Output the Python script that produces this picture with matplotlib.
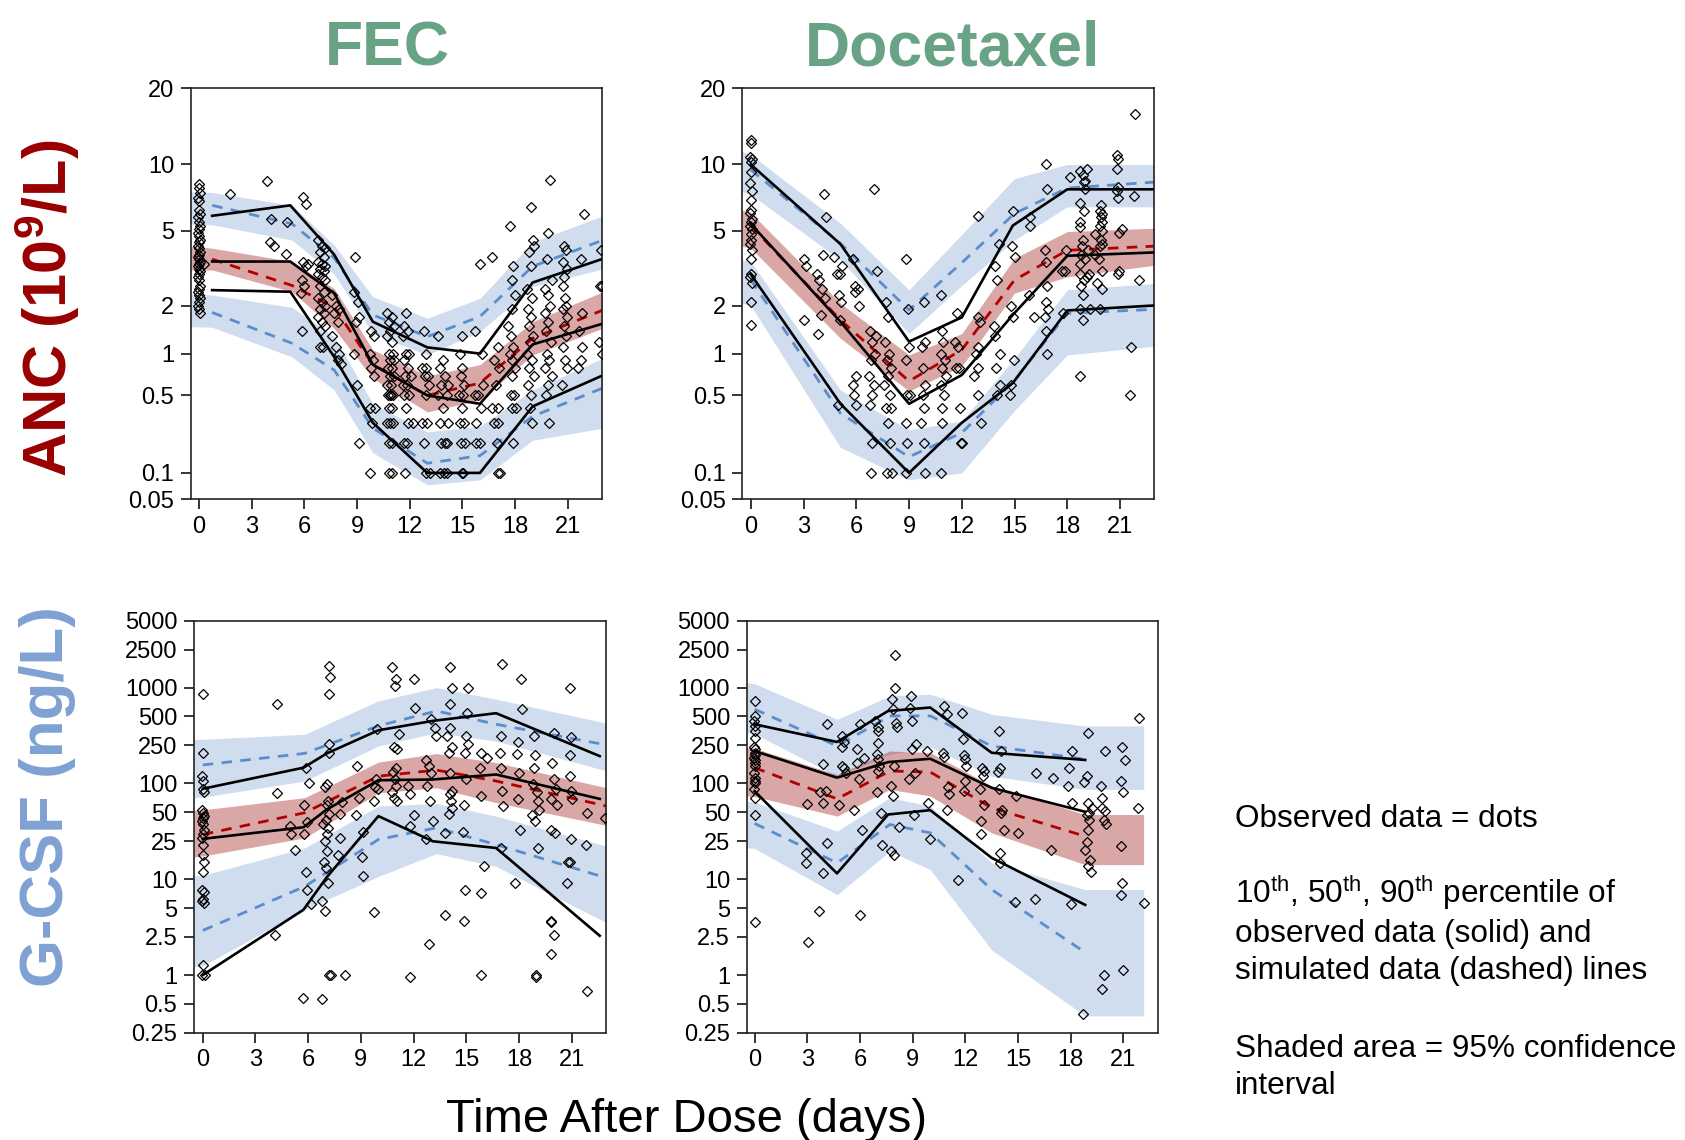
import numpy as np
import matplotlib
matplotlib.use("Agg")
import matplotlib.pyplot as plt
from matplotlib.ticker import NullLocator

plt.rcParams['font.family'] = ['Liberation Sans', 'DejaVu Sans']
plt.rcParams['mathtext.default'] = 'regular'

# ---------------- data ----------------
x_ticks = [0, 3, 6, 9, 12, 15, 18, 21]
anc_ticks = [0.05, 0.1, 0.5, 1, 2, 5, 10, 20]
anc_tick_labels = ["0.05", "0.1", "0.5", "1", "2", "5", "10", "20"]
gcsf_ticks = [0.25, 0.5, 1, 2.5, 5, 10, 25, 50, 100, 250, 500, 1000, 2500, 5000]
gcsf_tick_labels = ["0.25", "0.5", "1", "2.5", "5", "10", "25", "50", "100", "250",
                    "500", "1000", "2500", "5000"]

# ---- FEC, ANC ----
fec_anc_obs = [
    (0.0, 8.2), (0.0, 7.9), (0.05, 7.5), (-0.05, 7.1), (0.0, 6.9), (0.0, 6.3), (0.05, 6.0), (-0.05, 5.8),
    (0.0, 5.5), (0.05, 5.3), (0.0, 5.1), (-0.05, 4.9), (0.0, 4.7), (0.05, 4.5), (0.0, 4.4), (-0.05, 4.2),
    (0.0, 4.1), (0.05, 3.9), (0.0, 3.8), (-0.05, 3.7), (0.0, 3.6), (0.05, 3.5), (0.0, 3.4), (-0.05, 3.3),
    (0.0, 3.2), (0.05, 3.1), (0.0, 3.0), (-0.05, 2.9), (0.0, 2.8), (0.05, 2.6), (0.0, 2.5), (-0.05, 2.4),
    (0.0, 2.3), (0.05, 2.2), (0.0, 2.1), (-0.05, 2.0), (0.0, 1.9), (0.05, 1.8), (0.3, 3.4),
    (1.75, 7.4), (3.9, 8.5), (4.1, 5.7), (4.05, 4.4), (4.25, 4.2), (5.0, 5.5), (4.95, 3.85),
    (5.9, 7.2), (6.1, 6.7), (5.9, 3.5), (6.1, 3.3), (5.85, 2.8), (6.0, 2.6), (5.8, 2.35), (5.85, 1.4), (6.2, 3.4),
    (6.8, 4.5), (7.0, 4.2), (7.2, 4.1), (6.9, 3.9), (7.1, 3.7), (6.8, 3.5), (7.0, 3.4), (7.2, 3.3), (6.9, 3.2),
    (7.1, 3.1), (6.8, 3.0), (7.0, 2.9), (7.2, 2.8), (6.9, 2.6), (7.1, 2.4), (6.8, 2.2), (7.0, 2.1), (7.2, 2.0),
    (6.9, 1.9), (7.1, 1.8), (6.8, 1.7), (7.0, 1.6), (7.2, 1.5), (6.9, 1.4), (6.9, 1.1), (7.05, 1.1),
    (7.6, 2.3), (7.8, 2.0), (8.0, 1.9), (7.7, 1.8), (7.9, 1.6), (7.6, 1.3), (7.8, 1.1), (8.0, 1.0), (7.9, 0.9), (8.1, 0.85),
    (8.9, 3.7), (8.8, 2.4), (9.05, 2.1), (9.1, 1.7), (8.95, 1.6), (8.8, 1.0), (9.0, 0.6), (9.1, 0.2),
    (9.8, 1.4), (9.95, 1.3), (9.75, 1.0), (9.9, 0.9), (9.8, 0.8), (9.95, 0.7), (9.75, 0.4), (10.0, 0.4), (9.85, 0.3), (9.75, 0.1),
    (10.7, 1.8), (11.0, 1.7), (10.8, 1.6), (11.1, 1.5), (10.9, 1.4), (10.7, 1.3), (11.0, 1.2), (10.8, 1.0), (11.05, 1.0),
    (10.9, 0.9), (11.1, 0.9), (10.75, 0.8), (11.0, 0.8), (10.85, 0.7), (11.1, 0.7), (10.7, 0.6), (10.95, 0.6),
    (10.75, 0.5), (10.85, 0.5), (10.95, 0.5), (11.05, 0.5), (10.8, 0.4), (11.0, 0.4), (10.7, 0.3), (10.9, 0.3),
    (11.05, 0.3), (10.8, 0.2), (11.0, 0.2), (10.8, 0.1), (11.0, 0.1),
    (11.8, 1.8), (11.7, 1.5), (11.9, 1.4), (11.6, 1.3), (11.8, 1.0), (11.95, 1.0), (11.7, 0.9), (11.9, 0.8), (11.75, 0.7),
    (11.6, 0.6), (11.85, 0.6), (11.7, 0.5), (11.95, 0.5), (11.8, 0.4), (11.9, 0.3), (11.7, 0.2), (11.85, 0.2), (11.75, 0.1),
    (12.2, 0.3), (12.1, 0.7),
    (12.8, 1.4), (12.95, 1.0), (12.7, 0.8), (12.9, 0.8), (13.05, 0.7), (12.85, 0.7), (13.1, 0.6), (12.95, 0.5),
    (12.7, 0.3), (13.0, 0.3), (12.8, 0.2), (12.9, 0.1), (13.15, 0.1),
    (13.6, 1.3), (13.9, 0.9), (13.7, 0.8), (14.0, 0.7), (13.8, 0.6), (14.2, 0.6), (13.6, 0.5), (14.1, 0.5), (13.9, 0.4),
    (13.7, 0.3), (14.2, 0.3), (13.8, 0.2), (14.0, 0.2), (14.15, 0.2), (13.75, 0.1), (13.95, 0.1), (14.1, 0.1),
    (15.0, 1.3), (14.85, 1.0), (15.0, 0.8), (14.9, 0.7), (15.1, 0.6), (14.8, 0.5), (15.05, 0.5), (14.95, 0.4),
    (14.85, 0.3), (15.1, 0.3), (14.9, 0.2), (15.15, 0.2), (14.95, 0.1), (15.05, 0.1),
    (16.0, 3.4), (15.7, 1.4), (16.1, 1.0), (16.2, 0.6), (15.7, 0.5), (15.9, 0.5), (16.05, 0.4), (15.8, 0.3), (15.75, 0.2), (16.0, 0.2),
    (16.7, 3.7),
    (17.0, 1.1), (16.8, 0.9), (17.1, 0.8), (16.9, 0.6), (16.7, 0.4), (17.0, 0.4), (16.8, 0.3), (17.05, 0.3), (16.95, 0.2),
    (17.0, 0.1), (17.15, 0.1),
    (17.7, 5.3), (17.9, 3.3), (17.85, 2.8), (18.0, 2.3), (17.8, 1.9), (17.6, 1.5), (17.75, 1.3), (17.9, 1.1), (17.7, 1.0),
    (17.85, 0.9), (18.0, 0.8), (17.8, 0.7), (17.75, 0.5), (17.95, 0.5), (17.8, 0.4), (18.05, 0.4), (17.9, 0.2),
    (18.9, 6.5), (19.0, 4.5), (19.05, 4.2), (18.8, 3.9), (18.9, 3.3), (18.7, 2.5), (18.95, 2.2), (18.75, 1.9), (18.9, 1.7),
    (18.8, 1.5), (19.0, 1.3), (18.85, 1.2), (18.7, 1.0), (18.95, 0.9), (18.8, 0.8), (19.05, 0.7), (18.75, 0.6), (18.9, 0.5),
    (18.85, 0.4), (18.95, 0.3),
    (20.0, 8.6), (19.9, 4.9), (19.8, 3.6), (20.1, 2.8), (19.7, 2.5), (19.85, 2.3), (20.0, 2.0), (19.7, 1.8), (19.9, 1.6),
    (19.75, 1.4), (20.05, 1.2), (19.8, 1.0), (19.95, 0.9), (19.7, 0.8), (20.1, 0.7), (19.85, 0.6), (19.75, 0.5), (19.95, 0.3),
    (20.8, 4.2), (20.9, 4.0), (20.75, 3.5), (20.95, 3.2), (20.8, 2.9), (20.7, 2.6), (20.85, 2.2), (20.9, 2.0), (20.75, 1.9),
    (20.95, 1.7), (20.8, 1.5), (20.9, 1.3), (20.7, 1.1), (20.85, 0.9), (20.95, 0.8), (20.65, 0.6),
    (21.9, 6.0), (21.75, 3.6), (21.8, 1.8), (21.65, 1.4), (21.8, 1.1), (21.75, 0.9), (21.6, 0.8),
    (22.9, 4.0), (22.85, 2.6), (22.95, 2.6), (22.8, 1.2), (22.95, 1.0),
]
fec_anc_pct_t = [0.75, 5.2, 7.7, 9.9, 13.0, 16.0, 19.0, 22.93]
fec_anc_p90 = [5.9, 6.6, 3.8, 1.6, 1.1, 1.0, 2.7, 3.6]
fec_anc_p50 = [3.5, 3.5, 2.35, 0.84, 0.5, 0.43, 1.15, 1.55]
fec_anc_p10 = [2.45, 2.4, 0.95, 0.3, 0.1, 0.1, 0.41, 0.7]
fec_anc_band_t = [-0.5, 0.75, 5.3, 7.7, 9.9, 13.0, 16.0, 19.0, 23.0]
fec_anc_hi_top = [7.6, 7.55, 6.6, 4.25, 2.25, 1.68, 2.2, 4.4, 5.9]
fec_anc_hi_bot = [5.4, 5.35, 4.5, 3.0, 1.35, 0.98, 1.39, 2.56, 3.2]
fec_anc_mid_top = [4.2, 4.1, 3.5, 2.5, 1.06, 0.70, 0.84, 1.6, 2.4]
fec_anc_mid_bot = [3.16, 3.16, 2.4, 1.45, 0.67, 0.37, 0.46, 0.98, 1.46]
fec_anc_lo_top = [2.33, 2.3, 1.95, 1.29, 0.43, 0.25, 0.28, 0.55, 0.93]
fec_anc_lo_bot = [1.49, 1.48, 0.95, 0.55, 0.16, 0.074, 0.084, 0.21, 0.27]
fec_anc_sim_t = [0.75, 5.3, 7.7, 9.9, 13.0, 16.0, 19.0, 23.0]
fec_anc_sim90 = [6.6, 5.4, 3.65, 1.76, 1.29, 1.72, 3.3, 4.5]
fec_anc_sim50 = [3.6, 2.6, 1.95, 0.84, 0.5, 0.62, 1.26, 1.88]
fec_anc_sim10 = [1.82, 1.17, 0.77, 0.27, 0.126, 0.15, 0.34, 0.57]

# ---- Docetaxel, ANC ----
doc_anc_obs = [
    (0.0, 12.6), (0.0, 12.3), (-0.05, 10.8), (0.05, 10.5), (0.0, 10.2), (0.0, 9.3), (-0.05, 8.3), (0.05, 7.7),
    (0.0, 7.0), (0.0, 6.3), (-0.05, 6.1), (0.05, 5.7), (0.0, 5.5), (-0.05, 5.3), (0.05, 5.1), (0.0, 4.8), (0.0, 4.5),
    (-0.05, 4.3), (0.05, 4.0), (0.0, 3.6), (0.0, 3.0), (-0.05, 2.9), (0.05, 2.7), (0.0, 2.1), (0.0, 1.52),
    (3.0, 1.63), (3.0, 3.6), (3.15, 3.3),
    (3.75, 3.0), (3.9, 2.8), (4.0, 1.75), (3.8, 1.35), (4.05, 2.5),
    (4.15, 7.4), (4.1, 3.8), (4.2, 2.2), (4.3, 5.8),
    (4.75, 3.7), (4.9, 3.0), (5.05, 3.0), (5.2, 3.3), (5.0, 2.3), (5.15, 2.1), (5.1, 1.65), (4.95, 0.42),
    (5.8, 3.6), (5.9, 2.6), (6.1, 2.5), (5.95, 2.4), (6.15, 2.0), (6.0, 0.7), (5.8, 0.6), (5.85, 0.5), (6.0, 0.42),
    (7.0, 7.8), (7.2, 3.1), (6.8, 1.4), (7.1, 1.3), (6.9, 1.2), (7.05, 1.0), (6.85, 0.9), (6.75, 0.7), (7.0, 0.6),
    (6.9, 0.5), (6.8, 0.42), (6.9, 0.2), (6.85, 0.1),
    (7.7, 2.1), (7.8, 1.7), (7.65, 1.2), (7.85, 1.0), (7.75, 0.9), (8.0, 0.8), (7.8, 0.7), (7.6, 0.6), (7.9, 0.5),
    (7.7, 0.4), (8.0, 0.4), (7.8, 0.3), (7.9, 0.2), (7.75, 0.1), (8.05, 0.1),
    (8.8, 3.6), (8.95, 1.9), (9.0, 1.1), (8.85, 0.9), (8.9, 0.5), (9.05, 0.5), (8.8, 0.3), (8.9, 0.2), (8.85, 0.1),
    (9.85, 2.1), (9.9, 1.2), (9.75, 1.1), (9.8, 0.8), (9.9, 0.6), (9.8, 0.5), (9.85, 0.4), (9.7, 0.3), (9.85, 0.2), (9.9, 0.1),
    (10.8, 2.3), (10.85, 1.4), (10.95, 1.2), (10.8, 1.0), (11.05, 0.9), (10.9, 0.8), (11.1, 0.7), (10.8, 0.6),
    (11.0, 0.5), (10.85, 0.4), (10.9, 0.3), (10.8, 0.1),
    (11.7, 1.8), (11.6, 1.2), (11.8, 1.1), (11.65, 0.8), (11.85, 0.8), (11.9, 0.4), (12.0, 0.2), (11.95, 0.2),
    (12.9, 5.9), (12.95, 1.7), (13.05, 1.6), (12.9, 1.1), (12.8, 1.0), (12.95, 0.8), (12.7, 0.7), (12.9, 0.5), (13.1, 0.3),
    (14.1, 4.3), (13.9, 3.3), (14.0, 2.8), (13.85, 1.5), (13.9, 1.3), (14.15, 1.0), (13.95, 0.8), (14.2, 0.6), (14.0, 0.5),
    (14.9, 6.2), (14.85, 4.2), (15.0, 3.7), (14.8, 2.0), (14.9, 1.7), (14.95, 0.9), (14.8, 0.6), (14.75, 0.5),
    (15.9, 5.8), (15.9, 5.3), (15.8, 2.3), (16.1, 1.7),
    (16.8, 10.0), (16.85, 7.8), (16.75, 4.0), (16.8, 3.5), (16.85, 2.6), (16.8, 2.1), (16.9, 1.9), (16.75, 1.7),
    (16.8, 1.4), (16.85, 1.0),
    (17.7, 3.1), (17.85, 3.1), (17.9, 4.0), (17.75, 1.8), (18.15, 8.8),
    (18.7, 9.4), (18.9, 9.0), (18.95, 8.4), (18.75, 6.8), (18.95, 6.2), (18.7, 5.5), (18.75, 5.2), (18.9, 4.5),
    (18.85, 4.2), (18.8, 3.8), (19.0, 3.6), (18.75, 3.4), (18.7, 3.0), (18.95, 2.8), (18.8, 2.6), (18.9, 2.3),
    (18.75, 1.9), (18.9, 1.65), (18.7, 0.7),
    (19.1, 9.6), (19.0, 8.5), (19.0, 7.8), (19.2, 4.0), (19.25, 3.0), (19.1, 2.9), (19.3, 1.9),
    (19.9, 6.6), (19.85, 6.2), (19.95, 6.0), (19.9, 5.8), (20.0, 5.5), (19.85, 5.3), (19.95, 5.0), (19.6, 4.8),
    (19.9, 4.5), (20.0, 4.3), (19.85, 4.2), (19.6, 3.8), (19.8, 3.6), (19.95, 3.1), (19.7, 2.7), (19.95, 2.5), (19.85, 1.9),
    (20.8, 11.0), (20.9, 10.5), (20.85, 9.6), (20.9, 8.0), (20.85, 7.7), (20.9, 7.1), (21.1, 5.1), (20.95, 4.9),
    (20.95, 3.1), (20.9, 3.0),
    (21.85, 16.0), (21.8, 7.3), (21.65, 1.1), (21.55, 0.5), (22.1, 2.8),
]
doc_anc_pct_t = [0.0, 5.1, 9.0, 12.0, 14.9, 18.0, 22.93]
doc_anc_p90 = [10.0, 4.3, 1.2, 1.7, 5.3, 7.8, 7.8]
doc_anc_p50 = [5.4, 1.6, 0.43, 0.71, 1.76, 3.75, 3.9]
doc_anc_p10 = [3.0, 0.43, 0.1, 0.3, 0.62, 1.87, 2.0]
doc_anc_band_t = [-0.5, 0.0, 5.1, 9.0, 12.0, 15.0, 18.0, 23.0]
doc_anc_hi_top = [11.3, 11.0, 5.44, 2.46, 4.8, 8.7, 10.0, 10.0]
doc_anc_hi_bot = [7.6, 7.4, 3.57, 1.35, 2.6, 4.5, 6.5, 6.5]
doc_anc_mid_top = [6.28, 6.1, 2.06, 0.98, 1.35, 3.64, 4.96, 5.15]
doc_anc_mid_bot = [4.2, 4.1, 1.26, 0.54, 0.82, 2.36, 2.9, 3.35]
doc_anc_lo_top = [3.57, 3.5, 0.55, 0.26, 0.31, 0.93, 2.46, 2.67]
doc_anc_lo_bot = [2.06, 2.0, 0.18, 0.084, 0.1, 0.38, 0.98, 1.12]
doc_anc_sim_t = [0.0, 5.1, 9.0, 12.0, 15.0, 18.0, 23.0]
doc_anc_sim90 = [9.5, 4.33, 1.88, 3.45, 6.05, 7.9, 8.4]
doc_anc_sim50 = [5.3, 1.64, 0.64, 1.06, 2.79, 4.0, 4.2]
doc_anc_sim10 = [2.8, 0.36, 0.146, 0.245, 0.65, 1.8, 1.9]

# ---- FEC, G-CSF ----
fec_gcsf_obs = [
    (0.0, 855), (0.0, 210), (-0.05, 121), (0.0, 107), (0.05, 82), (0.0, 88), (-0.05, 53), (0.0, 49), (0.05, 46),
    (0.0, 44), (-0.05, 41), (0.0, 38), (0.05, 33), (0.0, 30), (-0.05, 27), (0.0, 23), (0.0, 18), (0.05, 15),
    (0.0, 11.8), (-0.05, 7.7), (0.05, 7.3), (0.0, 6.2), (-0.05, 5.9), (0.05, 5.7), (0.0, 1.28), (-0.05, 1.0), (0.1, 1.0),
    (4.2, 80), (4.2, 670), (4.1, 2.6), (4.95, 36), (5.05, 30), (5.25, 20),
    (5.85, 146), (6.05, 100), (5.75, 59), (5.95, 40), (5.75, 30), (5.85, 12), (5.95, 7.7), (6.15, 5.5), (5.7, 0.58),
    (7.2, 1690), (7.25, 1280), (7.2, 855), (7.2, 260), (7.2, 210), (7.05, 98), (6.95, 91), (7.15, 66), (7.1, 59),
    (7.2, 48), (7.0, 42), (6.85, 38), (7.15, 34), (7.05, 30), (6.95, 25), (7.1, 19.5), (6.9, 15), (7.0, 13),
    (7.15, 9.2), (6.8, 5.9), (6.95, 4.7), (7.2, 1.0), (7.3, 1.0), (6.8, 0.56),
    (7.8, 48), (7.9, 64), (7.8, 27), (7.7, 18), (8.1, 1.0),
    (8.8, 152), (8.9, 71), (8.7, 47), (9.1, 31), (9.05, 17), (9.1, 10.9),
    (9.9, 367), (9.85, 110), (9.8, 91), (9.95, 87), (9.75, 65), (9.75, 4.6),
    (10.8, 1660), (11.0, 1230), (10.95, 1050), (11.2, 326), (10.9, 240), (11.05, 227), (11.0, 144), (10.85, 131),
    (10.95, 112), (11.0, 93), (10.8, 82), (10.9, 71), (11.05, 65),
    (12.0, 1230), (12.1, 620), (11.7, 93), (11.8, 77), (12.0, 47), (11.8, 36), (11.8, 0.96),
    (12.7, 175), (13.0, 468), (13.2, 383), (13.25, 312), (12.9, 152), (13.0, 130), (12.75, 93), (12.95, 65),
    (13.1, 40.6), (12.7, 26), (12.9, 2.1),
    (14.1, 1660), (14.2, 1000), (14.1, 671), (14.1, 383), (13.9, 312), (14.2, 240), (14.0, 210), (14.05, 130),
    (14.2, 84), (14.1, 77), (14.15, 65), (14.2, 56), (14.0, 48), (13.8, 30.5), (13.8, 4.2),
    (15.1, 1000), (15.05, 550), (15.0, 312), (15.1, 260), (14.95, 210), (15.0, 112), (14.9, 60), (14.8, 31.5),
    (14.95, 7.7), (14.85, 3.7),
    (15.85, 210), (16.2, 185), (15.8, 144), (15.85, 74), (16.0, 13.6), (15.85, 7.1), (15.85, 1.0),
    (17.05, 1762), (17.0, 312), (16.9, 210), (17.0, 146), (17.05, 84), (17.1, 58), (17.0, 21),
    (18.1, 1230), (18.2, 596), (17.95, 274), (17.9, 203), (18.0, 130), (17.95, 68), (18.05, 33), (17.75, 9.2),
    (18.85, 312), (18.9, 196), (18.85, 146), (18.8, 98), (19.05, 82), (19.1, 65), (19.15, 53), (18.75, 47),
    (18.9, 40.6), (19.1, 21), (18.95, 0.96), (18.95, 1.0),
    (20.0, 339), (19.9, 165), (20.0, 112), (20.1, 87), (19.85, 68), (20.15, 60), (19.85, 33), (20.05, 30.5),
    (19.8, 3.7), (19.85, 3.6), (20.0, 2.6), (19.8, 1.66),
    (20.9, 1000), (20.95, 303), (20.9, 196), (20.9, 120), (20.95, 84), (21.0, 68), (20.95, 26), (20.8, 15),
    (20.9, 15), (20.75, 9.2),
    (21.9, 49), (21.8, 23), (21.9, 0.68), (22.9, 44),
]
fec_gcsf_pct_t = [0.0, 5.73, 7.06, 10.0, 13.1, 16.7, 22.6]
fec_gcsf_p90 = [88, 146, 206, 359, 450, 541, 193]
fec_gcsf_p50 = [26.4, 34.9, 53.5, 108, 110, 124, 69]
fec_gcsf_p10 = [1.0, 4.8, 10.5, 45.6, 24.9, 21.2, 2.57]
fec_gcsf_band_t = [-0.5, 0.0, 5.8, 10.0, 13.3, 16.7, 23.0]
fec_gcsf_hi_top = [289, 289, 326, 728, 1000, 757, 425]
fec_gcsf_hi_bot = [71, 72, 106, 246, 339, 277, 135]
fec_gcsf_mid_top = [52.6, 53, 71, 167, 205, 165, 90]
fec_gcsf_mid_bot = [17.1, 17.5, 27, 80, 90, 63, 36.4]
fec_gcsf_lo_top = [10.9, 11, 21.2, 58, 61.8, 45.6, 22.1]
fec_gcsf_lo_bot = [1.22, 1.25, 4.8, 10.7, 18.5, 13.6, 3.5]
fec_gcsf_sim_t = [0.0, 5.8, 10.0, 13.3, 16.7, 23.0]
fec_gcsf_sim90 = [156, 206, 399, 571, 415, 252]
fec_gcsf_sim50 = [29.3, 49.4, 119, 138, 106, 58]
fec_gcsf_sim10 = [2.92, 8.4, 26, 34.4, 23, 10.3]

# ---- Docetaxel, G-CSF ----
doc_gcsf_obs = [
    (0.0, 727), (0.0, 507), (-0.05, 450), (0.05, 400), (0.0, 353), (0.0, 301), (-0.05, 240), (0.05, 227),
    (0.0, 210), (0.0, 196), (-0.05, 183), (0.05, 175), (0.0, 163), (0.0, 152), (-0.05, 130), (0.05, 115),
    (0.0, 106), (0.0, 100), (-0.05, 87), (0.05, 71), (0.0, 47), (0.0, 3.6),
    (3.0, 61), (2.95, 19), (2.9, 14.7), (3.05, 2.2),
    (3.9, 158), (3.75, 81), (3.9, 63), (4.1, 415), (4.05, 84), (4.15, 24), (3.9, 11.5), (3.65, 4.7),
    (5.0, 240), (4.95, 312), (5.1, 274), (4.95, 152), (5.1, 146), (5.2, 130), (4.8, 60),
    (6.0, 415), (5.85, 227), (5.85, 165), (5.95, 112), (5.65, 53), (6.1, 33), (6.0, 4.2), (6.2, 186),
    (6.85, 450), (7.0, 384), (7.0, 353), (7.0, 266), (6.95, 201), (7.0, 180), (7.1, 152), (7.0, 135), (6.95, 81),
    (7.2, 49), (7.25, 23),
    (8.0, 2188), (8.0, 1000), (7.8, 757), (7.9, 596), (8.05, 425), (8.1, 384), (7.95, 152), (7.75, 93), (7.9, 74),
    (8.2, 35), (7.75, 19.8), (7.95, 18),
    (8.9, 814), (8.85, 620), (8.95, 450), (9.2, 260), (8.95, 227), (9.15, 130), (8.8, 112), (9.1, 47),
    (9.8, 218), (9.85, 63), (10.0, 26),
    (10.8, 645), (10.95, 528), (10.75, 210), (10.8, 187), (11.0, 91), (11.05, 77), (10.95, 53),
    (11.8, 550), (11.85, 289), (11.9, 196), (12.0, 180), (12.05, 152), (12.0, 106), (11.9, 84), (11.6, 9.9),
    (12.95, 146), (13.05, 135), (13.0, 119), (12.85, 87), (13.05, 60), (12.9, 40.6), (12.9, 29.5),
    (13.9, 353), (14.0, 218), (13.95, 146), (13.85, 131), (13.9, 87), (14.1, 53), (14.05, 49.4), (14.2, 33),
    (13.95, 19), (13.95, 14.7),
    (14.9, 74), (15.0, 30.5), (14.85, 5.8), (16.0, 130), (15.95, 6.2), (17.0, 115), (16.85, 20),
    (18.05, 218), (17.9, 146), (17.85, 93), (18.05, 63), (18.0, 5.5),
    (19.0, 339), (18.9, 119), (18.75, 104), (19.0, 63), (19.2, 56), (19.05, 49.4), (18.95, 47), (19.05, 42),
    (19.0, 33), (18.95, 24.5), (18.8, 20), (19.1, 16), (19.0, 13.6), (19.15, 11.8), (18.7, 0.39),
    (19.95, 218), (19.7, 93), (19.8, 71), (19.8, 56), (19.95, 51), (19.9, 42), (20.0, 37.5), (19.9, 1.0), (19.8, 0.71),
    (20.9, 240), (20.85, 106), (20.95, 81), (20.85, 22.4), (20.9, 9.2), (20.85, 6.9), (20.95, 1.14),
    (21.1, 175), (21.9, 485), (21.8, 55), (22.15, 5.6),
]
doc_gcsf_pct_t = [0.0, 4.69, 7.6, 10.0, 13.5, 18.82]
doc_gcsf_p90 = [415, 271, 571, 620, 209, 176]
doc_gcsf_p50 = [218, 115, 167, 181, 90, 50.6]
doc_gcsf_p10 = [83, 11.5, 47.4, 52.6, 16.7, 5.4]
doc_gcsf_band_t = [-0.5, 0.0, 4.7, 7.7, 10.0, 13.5, 18.82, 22.15]
doc_gcsf_hi_top = [1132, 1100, 468, 820, 855, 527, 398, 398]
doc_gcsf_hi_bot = [339, 330, 119, 201, 240, 119, 86.7, 86.7]
doc_gcsf_mid_top = [237, 232, 124, 218, 210, 94, 47.4, 47.4]
doc_gcsf_mid_bot = [74, 73, 45.6, 86.7, 74, 30.5, 14.2, 14.2]
doc_gcsf_lo_top = [65.3, 64, 31.8, 71, 58, 14.8, 7.8, 7.8]
doc_gcsf_lo_bot = [21.2, 21, 6.9, 19.6, 12.6, 1.83, 0.374, 0.374]
doc_gcsf_sim_t = [0.0, 4.7, 7.7, 10.0, 13.5, 18.82]
doc_gcsf_sim90 = [596, 246, 507, 507, 246, 179]
doc_gcsf_sim50 = [146, 69, 135, 131.5, 55.7, 28.1]
doc_gcsf_sim10 = [38.2, 14.8, 37.3, 30.5, 7.8, 1.72]

# ---------------- styling ----------------
W, H = 1685, 1140
BLUE_BAND = "#4a7cc0"
RED_BAND = "#a01818"
BLUE_DASH = "#5d8ccc"
RED_DASH = "#b00000"
GREEN = "#69a386"

fig = plt.figure(figsize=(W / 100, H / 100), dpi=100)


def fwd(v):
    v = np.asarray(v, dtype=float)
    return np.sign(v) * np.abs(v) ** 0.2


def inv(v):
    v = np.asarray(v, dtype=float)
    return np.sign(v) * np.abs(v) ** 5


def px_axes(l, t, r, b):
    return fig.add_axes([l / W, 1 - b / H, (r - l) / W, (b - t) / H])


panels = [
    dict(rect=(190.7, 88.3, 601.7, 499.3), xlim=(-0.47, 22.93), kind="anc", obs=fec_anc_obs,
         pct_t=fec_anc_pct_t, p=(fec_anc_p10, fec_anc_p50, fec_anc_p90),
         band_t=fec_anc_band_t,
         bands=((fec_anc_hi_bot, fec_anc_hi_top), (fec_anc_lo_bot, fec_anc_lo_top), (fec_anc_mid_bot, fec_anc_mid_top)),
         sim_t=fec_anc_sim_t, sim=(fec_anc_sim10, fec_anc_sim50, fec_anc_sim90)),
    dict(rect=(742.3, 88.3, 1154.0, 499.3), xlim=(-0.48, 22.93), kind="anc", obs=doc_anc_obs,
         pct_t=doc_anc_pct_t, p=(doc_anc_p10, doc_anc_p50, doc_anc_p90),
         band_t=doc_anc_band_t,
         bands=((doc_anc_hi_bot, doc_anc_hi_top), (doc_anc_lo_bot, doc_anc_lo_top), (doc_anc_mid_bot, doc_anc_mid_top)),
         sim_t=doc_anc_sim_t, sim=(doc_anc_sim10, doc_anc_sim50, doc_anc_sim90)),
    dict(rect=(194.0, 620.7, 605.7, 1032.7), xlim=(-0.5, 22.94), kind="gcsf", obs=fec_gcsf_obs,
         pct_t=fec_gcsf_pct_t, p=(fec_gcsf_p10, fec_gcsf_p50, fec_gcsf_p90),
         band_t=fec_gcsf_band_t,
         bands=((fec_gcsf_hi_bot, fec_gcsf_hi_top), (fec_gcsf_lo_bot, fec_gcsf_lo_top), (fec_gcsf_mid_bot, fec_gcsf_mid_top)),
         sim_t=fec_gcsf_sim_t, sim=(fec_gcsf_sim10, fec_gcsf_sim50, fec_gcsf_sim90)),
    dict(rect=(746.7, 620.7, 1157.7, 1032.7), xlim=(-0.45, 22.95), kind="gcsf", obs=doc_gcsf_obs,
         pct_t=doc_gcsf_pct_t, p=(doc_gcsf_p10, doc_gcsf_p50, doc_gcsf_p90),
         band_t=doc_gcsf_band_t,
         bands=((doc_gcsf_hi_bot, doc_gcsf_hi_top), (doc_gcsf_lo_bot, doc_gcsf_lo_top), (doc_gcsf_mid_bot, doc_gcsf_mid_top)),
         sim_t=doc_gcsf_sim_t, sim=(doc_gcsf_sim10, doc_gcsf_sim50, doc_gcsf_sim90)),
]

for pnl in panels:
    ax = px_axes(*pnl["rect"])
    if pnl["kind"] == "anc":
        ax.set_yscale("function", functions=(fwd, inv))
        ax.set_ylim(0.05, 20)
        ax.set_yticks(anc_ticks)
        ax.set_yticklabels(anc_tick_labels)
    else:
        ax.set_yscale("log")
        ax.set_ylim(0.25, 5000)
        ax.set_yticks(gcsf_ticks)
        ax.set_yticklabels(gcsf_tick_labels)
    ax.yaxis.set_minor_locator(NullLocator())
    ax.set_xlim(*pnl["xlim"])
    ax.set_xticks(x_ticks)
    ax.set_xticklabels([str(v) for v in x_ticks])
    ax.xaxis.set_minor_locator(NullLocator())

    bt = pnl["band_t"]
    (hb, ht), (lb, lt), (mb, mt) = pnl["bands"]
    ax.fill_between(bt, hb, ht, color=BLUE_BAND, alpha=0.26, lw=0, zorder=1)
    ax.fill_between(bt, lb, lt, color=BLUE_BAND, alpha=0.26, lw=0, zorder=1)
    ax.fill_between(bt, mb, mt, color=RED_BAND, alpha=0.38, lw=0, zorder=1.5)

    s10, s50, s90 = pnl["sim"]
    ax.plot(pnl["sim_t"], s90, color=BLUE_DASH, lw=2.0, ls=(0, (3.8, 3)), zorder=2)
    ax.plot(pnl["sim_t"], s10, color=BLUE_DASH, lw=2.0, ls=(0, (3.8, 3)), zorder=2)
    ax.plot(pnl["sim_t"], s50, color=RED_DASH, lw=2.0, ls=(0, (3.8, 3)), zorder=2)

    for series in pnl["p"]:
        ax.plot(pnl["pct_t"], series, color="black", lw=1.9, zorder=3)

    ot = [o[0] for o in pnl["obs"]]
    oy = [o[1] for o in pnl["obs"]]
    ax.plot(ot, oy, ls="none", marker="D", ms=5.0, mfc="none", mec="black", mew=0.9,
            zorder=4, clip_on=True)

    for sp in ax.spines.values():
        sp.set_linewidth(1.2)
        sp.set_color("#222222")
    ax.tick_params(axis="both", direction="out", length=7, width=1.1, labelsize=17,
                   pad=5, colors="black")

# titles
fig.text(387 / W, 1 - 65 / H, "FEC", ha="center", va="baseline", fontsize=45,
         fontweight="bold", color=GREEN)
fig.text(953 / W, 1 - 65 / H, "Docetaxel", ha="center", va="baseline", fontsize=45,
         fontweight="bold", color=GREEN)

# row labels
fig.text(47 / W, 1 - 308 / H, "ANC (10$^9$/L)", rotation=90, ha="center", va="center",
         fontsize=44, fontweight="bold", color="#990000")
fig.text(47 / W, 1 - 797 / H, "G-CSF (ng/L)", rotation=90, ha="center", va="center",
         fontsize=44.5, fontweight="bold", color="#7ea1d3")

# x label
fig.text(686 / W, 1 - 1131.5 / H, "Time After Dose (days)", ha="center", va="baseline",
         fontsize=34, color="black")

# legend text
notes = [
    (826.7, "Observed data = dots"),
    (903.0, "10$^{th}$, 50$^{th}$, 90$^{th}$ percentile of"),
    (941.7, "observed data (solid) and"),
    (978.5, "simulated data (dashed) lines"),
    (1056.7, "Shaded area = 95% confidence"),
    (1093.5, "interval"),
]
for yb, txt in notes:
    fig.text(1235 / W, 1 - yb / H, txt, ha="left", va="baseline", fontsize=22.7, color="black")

fig.savefig("out.png", dpi=100)
